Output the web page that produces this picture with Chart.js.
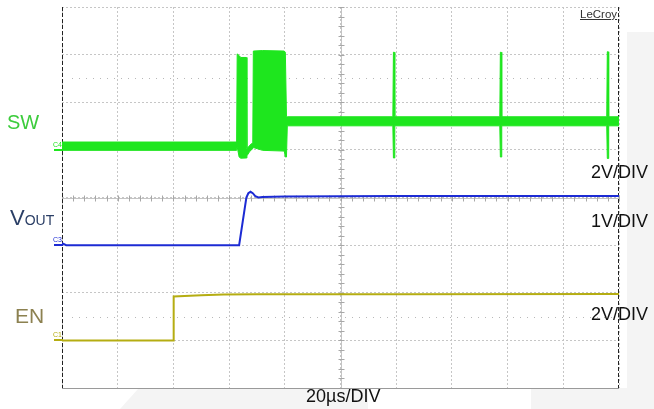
<!DOCTYPE html>
<html>
<head>
<meta charset="utf-8">
<script src="https://cdn.jsdelivr.net/npm/chart.js@4/dist/chart.umd.min.js"></script>
<style>
  html, body { margin: 0; padding: 0; background: #ffffff; }
  #wrap { position: relative; width: 654px; height: 409px; overflow: hidden; font-family: "Liberation Sans", Arial, sans-serif; }
  canvas { position: absolute; left: 0; top: 0; }
  .panel { position: absolute; background: #f4f4f4; }
  .lbl { position: absolute; line-height: 1; white-space: nowrap; }
</style>
</head>
<body>
<div id="wrap">
  <div class="panel" style="left:627px; top:32px; width:27px; height:377px;"></div>
  <div class="panel" style="left:531px; top:388px; width:96px; height:21px;"></div>
  <div class="panel" style="left:120px; top:389px; width:248px; height:20px; clip-path: polygon(18px 0, 100% 0, 100% 100%, 0 100%);"></div>
  <canvas id="scope" width="654" height="409"></canvas>

  <div class="lbl" style="left:7px; top:112px; font-size:20px; color:#3ccc3c;">SW</div>
  <div class="lbl" style="left:10px; top:207px; font-size:22px; color:#2b3f66;">V<span style="font-size:14px;">OUT</span></div>
  <div class="lbl" style="left:15px; top:305px; font-size:21px; color:#8c8150;">EN</div>

  <div class="lbl" style="left:591px; top:163px; font-size:18px; color:#111;">2V/DIV</div>
  <div class="lbl" style="left:591px; top:212px; font-size:18px; color:#111;">1V/DIV</div>
  <div class="lbl" style="left:591px; top:305px; font-size:18px; color:#111;">2V/DIV</div>
  <div class="lbl" style="left:306px; top:387px; font-size:18px; color:#111;">20µs/DIV</div>
  <div class="lbl" style="left:580px; top:9px; font-size:11.5px; color:#333; text-decoration:underline;">LeCroy</div>
</div>

<script>
// Timebase: 10 divisions of 20 µs; vertical: 8 divisions.
const timeDivUs = 20;
const timeDivs = 10;
const vertDivs = 8;

// Channel settings (volts per division and ground position in divisions from centre)
const chLabels   = ['C4', 'C3', 'C1'];
const chVperDiv  = [2, 1, 2];
const chGround   = [1, -1, -3];
const chColors   = ['#1ee61e', '#1c2bd4', '#b5ad12'];

// SW (C4): envelope of the switching node, volts, time in µs
const swTime  = [0, 62.7, 62.9, 63.6, 64.2, 66.2, 66.4, 67.5, 68.5, 68.7, 72.0, 79.8, 80.2, 80.6, 80.9,
                 118.8, 119.0, 119.3, 119.5, 157.2, 157.4, 157.7, 157.9, 195.6, 195.8, 196.1, 196.3, 200];
const swUpper = [0.33, 0.33, 4.03, 3.96, 3.88, 3.88, 0.05, 0.20, 0.30, 4.15, 4.17, 4.15, 4.10, 1.40, 1.39,
                 1.39, 4.10, 4.10, 1.39, 1.39, 4.10, 4.10, 1.39, 1.39, 4.12, 4.12, 1.39, 1.39];
const swLower = [-0.02, -0.02, 0.13, -0.30, -0.35, -0.34, -0.25, -0.05, 0.05, 0.10, -0.02, -0.05, -0.30, -0.30, 1.01,
                 1.01, -0.34, -0.34, 1.01, 1.01, -0.30, -0.30, 1.01, 1.01, -0.36, -0.36, 1.01, 1.01];

// VOUT (C3): volts
const voutTime  = [0, 1.5, 20, 40, 63.6, 66.2, 66.9, 67.7, 68.5, 69.4, 70.5, 72, 80, 120, 160, 200];
const voutVolts = [0.04, 0.0, 0.0, 0.0, 0.0, 1.0, 1.09, 1.12, 1.09, 1.03, 1.0, 1.01, 1.02, 1.03, 1.03, 1.03];

// EN (C1): volts
const enTime  = [0, 39.9, 40.1, 44, 50, 58, 70, 120, 200];
const enVolts = [0.0, 0.0, 1.84, 1.86, 1.89, 1.93, 1.94, 1.94, 1.95];

function toDivPoints(times, volts, ch) {
  return times.map((t, i) => ({ x: t, y: chGround[ch] + volts[i] / chVperDiv[ch] }));
}

// Graticule extras: solid centre axes with minor ticks, dotted half-division rows, frame
const graticule = {
  id: 'graticule',
  beforeDatasetsDraw(chart) {
    const { ctx, chartArea: a, scales: { x, y } } = chart;
    ctx.save();
    ctx.lineWidth = 1;

    // dotted half-division rows
    ctx.strokeStyle = '#b8b8b8';
    ctx.setLineDash([1, 6]);
    [2.5, -2.5].forEach(v => {
      const py = Math.round(y.getPixelForValue(v)) + 0.5;
      ctx.beginPath(); ctx.moveTo(a.left + 10, py); ctx.lineTo(a.right, py); ctx.stroke();
    });
    ctx.setLineDash([]);

    // centre axes
    const cx = Math.round(x.getPixelForValue(timeDivUs * timeDivs / 2)) + 0.5;
    const cy = Math.round(y.getPixelForValue(0)) + 0.5;
    ctx.strokeStyle = '#c4c4c4';
    ctx.beginPath(); ctx.moveTo(cx, a.top); ctx.lineTo(cx, a.bottom); ctx.stroke();
    ctx.beginPath(); ctx.moveTo(a.left, cy); ctx.lineTo(a.right, cy); ctx.stroke();
    ctx.strokeStyle = '#a8a8a8';
    for (let v = -vertDivs / 2; v <= vertDivs / 2 + 1e-9; v += 0.2) {
      const py = Math.round(y.getPixelForValue(v)) + 0.5;
      ctx.beginPath(); ctx.moveTo(cx - 3, py); ctx.lineTo(cx + 3, py); ctx.stroke();
    }
    for (let t = 0; t <= timeDivUs * timeDivs + 1e-9; t += timeDivUs / 5) {
      const px = Math.round(x.getPixelForValue(t)) + 0.5;
      ctx.beginPath(); ctx.moveTo(px, cy - 3); ctx.lineTo(px, cy + 3); ctx.stroke();
    }

    // frame
    const l = Math.round(a.left) + 0.5, r = Math.round(a.right) - 0.5;
    const b = Math.round(a.bottom) + 0.5;
    ctx.strokeStyle = '#9a9a9a';
    ctx.beginPath(); ctx.moveTo(a.left, b); ctx.lineTo(a.right, b); ctx.stroke();
    ctx.strokeStyle = '#222';
    ctx.setLineDash([4, 2]);
    ctx.beginPath(); ctx.moveTo(l, a.top); ctx.lineTo(l, a.bottom); ctx.stroke();
    ctx.beginPath(); ctx.moveTo(r, a.top); ctx.lineTo(r, a.bottom); ctx.stroke();
    ctx.restore();
  },
  afterDatasetsDraw(chart) {
    // channel ground markers left of the frame
    const { ctx, chartArea: a, scales: { y } } = chart;
    ctx.save();
    chLabels.forEach((name, i) => {
      const py = Math.round(y.getPixelForValue(chGround[i]));
      ctx.fillStyle = chColors[i];
      ctx.fillRect(a.left - 8, py - 1, 9, 2);
      ctx.font = '7px "Liberation Sans", Arial, sans-serif';
      ctx.textBaseline = 'alphabetic';
      ctx.fillText(name, a.left - 9, py - 3);
    });
    ctx.restore();
  }
};

const gridStyle = { color: '#c6c6c6', lineWidth: 1, drawTicks: false, tickLength: 0 };

new Chart(document.getElementById('scope'), {
  type: 'line',
  data: {
    datasets: [
      { data: toDivPoints(swTime, swUpper, 0), borderColor: chColors[0], borderWidth: 1, fill: false, pointRadius: 0, tension: 0 },
      { data: toDivPoints(swTime, swLower, 0), borderColor: chColors[0], borderWidth: 1, backgroundColor: chColors[0], fill: '-1', pointRadius: 0, tension: 0 },
      { data: toDivPoints(voutTime, voutVolts, 1), borderColor: chColors[1], borderWidth: 2, fill: false, pointRadius: 0, tension: 0 },
      { data: toDivPoints(enTime, enVolts, 2), borderColor: chColors[2], borderWidth: 2, fill: false, pointRadius: 0, tension: 0 }
    ]
  },
  options: {
    responsive: false,
    animation: false,
    events: [],
    layout: { padding: { left: 62, right: 35, top: 7, bottom: 21 } },
    plugins: { legend: { display: false }, tooltip: { enabled: false } },
    scales: {
      x: {
        type: 'linear', min: 0, max: timeDivUs * timeDivs,
        ticks: { display: false, stepSize: timeDivUs },
        grid: gridStyle,
        border: { display: false, dash: [2, 2] }
      },
      y: {
        type: 'linear', min: -vertDivs / 2, max: vertDivs / 2,
        ticks: { display: false, stepSize: 1 },
        grid: gridStyle,
        border: { display: false, dash: [2, 2] }
      }
    }
  },
  plugins: [graticule]
});
</script>
</body>
</html>
